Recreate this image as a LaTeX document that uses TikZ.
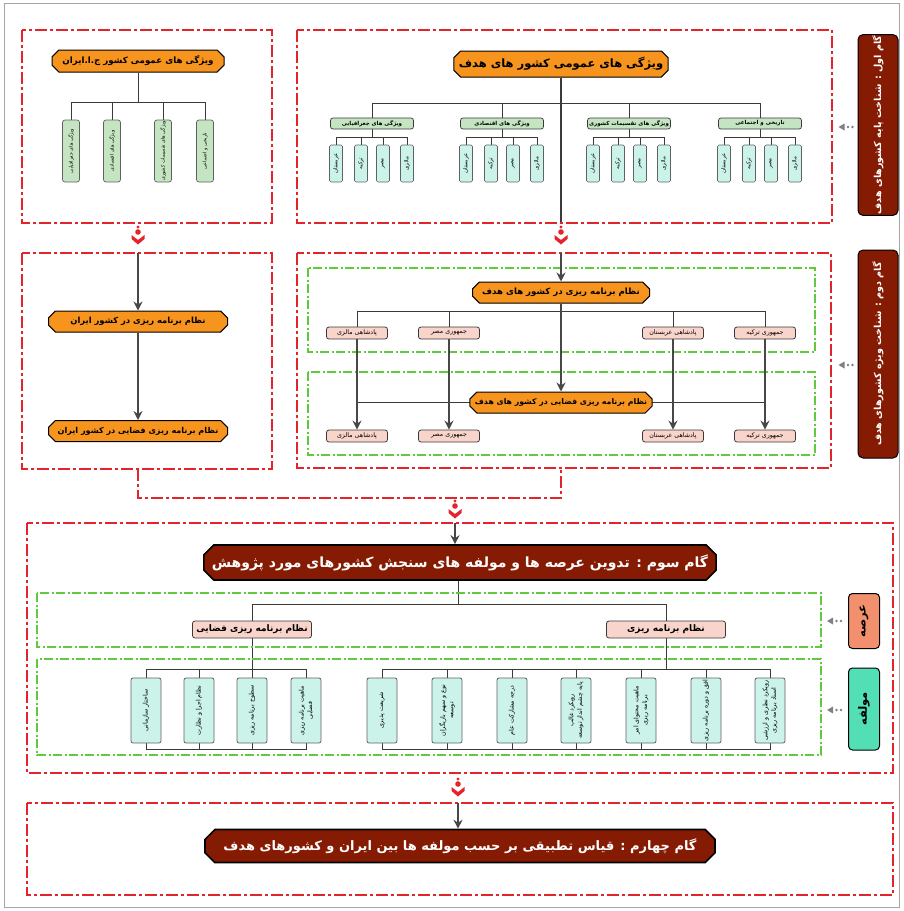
\documentclass[tikz,border=0pt]{standalone}
\usepackage{fontspec}
\usetikzlibrary{shapes.misc,arrows.meta,calc}
\TeXXeTstate=1
\newfontfamily\farsi[Script=Arabic]{DejaVu Sans}
\newcommand{\fa}[1]{\beginR #1\endR}
\newcommand{\fsz}[2]{\fontsize{#1}{#2}\selectfont}
\definecolor{redc}{HTML}{E3242B}
\definecolor{greenc}{HTML}{5FCB3A}
\definecolor{orangec}{HTML}{F7941D}
\definecolor{brownc}{HTML}{861B04}
\definecolor{ghc}{HTML}{C5E5C2}
\definecolor{cyc}{HTML}{CBF3EA}
\definecolor{pkc}{HTML}{F9D4CB}
\definecolor{salc}{HTML}{F2906E}
\definecolor{mintc}{HTML}{52DFB6}
\definecolor{linec}{HTML}{3A3A3A}
\definecolor{arrc}{HTML}{474747}
\pgfdeclarelayer{bg}
\pgfsetlayers{bg,main}
\tikzset{
 redbox/.style={draw=redc, line width=2.2pt, dash pattern=on 12pt off 3pt on 3pt off 3pt},
 greenbox/.style={draw=greenc, line width=1.1pt, dash pattern=on 9pt off 2.5pt on 2pt off 2.5pt},
 conn/.style={draw=linec, line width=0.9pt},
 arr/.style={draw=arrc, line width=1.6pt, -{Stealth[length=9pt,width=9pt,inset=3pt]}},
 orangebox/.style={chamfered rectangle, chamfered rectangle xsep=4pt, draw=black, line width=1pt, fill=orangec, text=black, inner sep=1pt},
 brownbox/.style={chamfered rectangle, chamfered rectangle xsep=7pt, draw=black, line width=1.6pt, fill=brownc, text=white, inner sep=1pt},
 ghbox/.style={draw=linec, line width=0.7pt, rounded corners=2.5pt, fill=ghc, minimum width=83pt, minimum height=11pt, inner sep=0.5pt, font=\farsi\bfseries\fsz{5.5}{6}},
 gvbox/.style={rotate=90, draw=linec!80, line width=0.7pt, rounded corners=2.5pt, fill=ghc, minimum width=62pt, minimum height=17pt, inner sep=0.5pt, font=\farsi\fsz{4.9}{6}},
 cybox/.style={rotate=90, draw=linec!80, line width=0.6pt, rounded corners=1.5pt, fill=cyc, minimum width=37pt, minimum height=13pt, inner sep=0.5pt, font=\farsi\fsz{5.5}{6}},
 pkbox/.style={draw=linec, line width=0.8pt, rounded corners=2.5pt, fill=pkc, minimum width=61pt, minimum height=12pt, inner sep=0.5pt, font=\farsi\fsz{6.3}{7}},
 mbox/.style={rotate=90, draw=linec!80, line width=0.8pt, rounded corners=2pt, fill=cyc, minimum width=65pt, minimum height=30pt, inner sep=0.5pt, align=center, font=\farsi\fsz{6.3}{8.5}},
 steplabel/.style={rotate=90, draw=black, line width=1pt, rounded corners=5pt, fill=brownc, text=white, minimum height=40pt, inner sep=1pt, font=\farsi\bfseries\fsz{9.6}{12}},
 sidebox/.style={rotate=90, draw=black, line width=1pt, rounded corners=4pt, minimum height=31pt, inner sep=1pt, font=\farsi\bfseries\fsz{11.5}{12}},
 redmark/.pic={
  \fill[redc] (0,0) circle (1.6);
  \fill[redc] (0,5) circle (2.8);
  \fill[redc] (-6.5,8) -- (0,13) -- (6.5,8) -- (6.5,12) -- (0,17.5) -- (-6.5,12) -- cycle;
 },
 dotarrow/.pic={
  \fill[gray] (0,0) -- (6,-3.5) -- (6,3.5) -- cycle;
  \fill[gray] (9.5,0) circle (1.4);
  \fill[gray] (14,0) circle (1.4);
 }
}
\begin{document}
\begin{tikzpicture}[x=1pt,y=-1pt]
\useasboundingbox (0,0) rectangle (904,911);
\draw[black!35, line width=0.6pt] (4,3) rectangle (899,907);

% ===== Step 1 left =====
\draw[redbox] (22,30) rectangle (272,223);
\node[orangebox, minimum width=172pt, minimum height=22pt, font=\farsi\bfseries\fsz{8.7}{10}] (ihead) at (138,61) {\fa{ویژگی های عمومی کشور ج.ا.ایران}};
\node[gvbox] (ig1) at (71,151) {\fa{ویژگی های جغرافیایی}};
\node[gvbox] (ig2) at (112,151) {\fa{ویژگی های اقتصادی}};
\node[gvbox] (ig3) at (163,151) {\fa{ویژگی های تقسیمات کشوری}};
\node[gvbox] (ig4) at (205,151) {\fa{تاریخی و اجتماعی}};
\coordinate (ibar) at (138,102);
\begin{pgfonlayer}{bg}
\draw[conn] (ihead.south) -- (ibar);
\draw[conn] (ig1.east) -- (ig1.east |- ibar) -- (ig4.east |- ibar) -- (ig4.east);
\draw[conn] (ig2.east) -- (ig2.east |- ibar);
\draw[conn] (ig3.east) -- (ig3.east |- ibar);
\end{pgfonlayer}

% ===== Step 1 right =====
\draw[redbox] (297,30) rectangle (832,223);
\node[orangebox, minimum width=214pt, minimum height=26pt, font=\farsi\bfseries\fsz{11.5}{12}] (thead) at (561,64) {\fa{ویژگی های عمومی کشور های هدف}};
\node[ghbox] (gh1) at (372,123.5) {\fa{ویژگی های جغرافیایی}};
\node[ghbox] (gh2) at (502,123.5) {\fa{ویژگی های اقتصادی}};
\node[ghbox] (gh3) at (629,123.5) {\fa{ویژگی های تقسیمات کشوری}};
\node[ghbox] (gh4) at (760,123.5) {\fa{تاریخی و اجتماعی}};
\coordinate (tbar) at (561,103);
\coordinate (r1bot) at (561,223);
\foreach \g/\cx in {1/372,2/502,3/629,4/760} {
  \node[cybox] (c\g-1) at (\cx-36,163.5) {\fa{عربستان}};
  \node[cybox] (c\g-2) at (\cx-11,163.5) {\fa{ترکیه}};
  \node[cybox] (c\g-3) at (\cx+11,163.5) {\fa{مصر}};
  \node[cybox] (c\g-4) at (\cx+35,163.5) {\fa{مالزی}};
  \coordinate (sb\g) at (\cx,137);
  \begin{pgfonlayer}{bg}
  \draw[conn] (gh\g.south) -- (sb\g);
  \draw[conn] (c\g-1.east) -- (c\g-1.east |- sb\g) -- (c\g-4.east |- sb\g) -- (c\g-4.east);
  \draw[conn] (c\g-2.east) -- (c\g-2.east |- sb\g);
  \draw[conn] (c\g-3.east) -- (c\g-3.east |- sb\g);
  \end{pgfonlayer}
}
\begin{pgfonlayer}{bg}
\draw[conn, line width=1.3pt] (thead.south) -- (r1bot);
\draw[conn] (gh1.north) -- (gh1.north |- tbar) -- (gh4.north |- tbar) -- (gh4.north);
\draw[conn] (gh2.north) -- (gh2.north |- tbar);
\draw[conn] (gh3.north) -- (gh3.north |- tbar);
\end{pgfonlayer}
\node[steplabel, minimum width=180pt] (s1) at (878,125) {\fa{گام اول : شناخت پایه کشورهای هدف}};
\pic at ($(s1.north)+(-19,2)$) {dotarrow};

\pic at (138,227) {redmark};
\pic at (561,227) {redmark};

% ===== Step 2 left =====
\draw[redbox] (22,253) rectangle (272,469);
\coordinate (l2top) at (138,253);
\node[orangebox, minimum width=179pt, minimum height=21pt, font=\farsi\bfseries\fsz{8.4}{9}] (n1) at (138,321.5) {\fa{نظام برنامه ریزی در کشور ایران}};
\node[orangebox, minimum width=179pt, minimum height=21pt, font=\farsi\bfseries\fsz{8.1}{9}] (n2) at (138,431) {\fa{نظام برنامه ریزی فضایی در کشور ایران}};
\draw[arr] (l2top) -- (n1.north);
\draw[arr] (n1.south) -- (n2.north);

% ===== Step 2 right =====
\draw[redbox] (297,253) rectangle (831,468);
\draw[greenbox] (308,268) rectangle (815,352);
\draw[greenbox] (308,372) rectangle (815,455);
\coordinate (r2top) at (561,253);
\node[orangebox, minimum width=177pt, minimum height=21pt, font=\farsi\bfseries\fsz{8.6}{9}] (A) at (561,292.5) {\fa{نظام برنامه ریزی در کشور های هدف}};
\node[orangebox, minimum width=177pt, minimum height=21pt, font=\farsi\bfseries\fsz{7.8}{9}] (B) at (561,402.5) {\fa{نظام برنامه ریزی فضایی در کشور های هدف}};
\draw[arr] (r2top) -- (A.north);
\draw[arr] (A.south) -- (B.north);
\node[pkbox] (p1) at (357,333) {\fa{پادشاهی مالزی}};
\node[pkbox] (p2) at (449,333) {\fa{جمهوری مصر}};
\node[pkbox] (p3) at (673,333) {\fa{پادشاهی عربستان}};
\node[pkbox] (p4) at (765,333) {\fa{جمهوری ترکیه}};
\node[pkbox] (q1) at (357,436) {\fa{پادشاهی مالزی}};
\node[pkbox] (q2) at (449,436) {\fa{جمهوری مصر}};
\node[pkbox] (q3) at (673,436) {\fa{پادشاهی عربستان}};
\node[pkbox] (q4) at (765,436) {\fa{جمهوری ترکیه}};
\coordinate (abar) at (561,311);
\begin{pgfonlayer}{bg}
\draw[conn] (p1.north) -- (p1.north |- abar) -- (p4.north |- abar) -- (p4.north);
\draw[conn] (p2.north) -- (p2.north |- abar);
\draw[conn] (p3.north) -- (p3.north |- abar);
\draw[conn] (p1.south |- B) -- (p4.south |- B);
\end{pgfonlayer}
\foreach \i in {1,2,3,4} {\draw[arr] (p\i.south) -- (q\i.north);}
\node[steplabel, minimum width=208pt] (s2) at (878,354) {\fa{گام دوم : شناخت ویژه کشورهای هدف}};
\pic at ($(s2.north)+(-19,11)$) {dotarrow};

% ===== link to step 3 =====
\coordinate (l2bot) at (138,469);
\coordinate (r2bot) at (561,468);
\coordinate (jn) at (455,498);
\draw[redbox, line width=2pt] (l2bot) -- (l2bot |- jn) -- (r2bot |- jn) -- (r2bot);
\pic at (455,501) {redmark};

% ===== Step 3 =====
\draw[redbox] (27,523) rectangle (893,773);
\coordinate (s3top) at (455,523);
\node[brownbox, minimum width=505pt, minimum height=35pt, font=\farsi\bfseries\fsz{14}{16}] (H3) at (460,562.5) {\fa{گام سوم : تدوین عرصه ها و مولفه های سنجش کشورهای مورد پژوهش}};
\draw[arr] (s3top) -- (s3top |- H3.north);
\draw[greenbox] (37,593) rectangle (821,647);
\draw[greenbox] (37,659) rectangle (821,755);
\node[pkbox, minimum width=119pt, minimum height=17pt, font=\farsi\bfseries\fsz{9}{10}] (k1) at (252,629.5) {\fa{نظام برنامه ریزی فضایی}};
\node[pkbox, minimum width=119pt, minimum height=17pt, font=\farsi\bfseries\fsz{9}{10}] (k2) at (666,629.5) {\fa{نظام برنامه ریزی}};
\coordinate (hbar) at (458,604);
\begin{pgfonlayer}{bg}
\draw[conn] (hbar |- H3.south) -- (hbar);
\draw[conn] (k1.north) -- (k1.north |- hbar) -- (k2.north |- hbar) -- (k2.north);
\end{pgfonlayer}

\node[mbox] (m1) at (146,710.5) {\fa{ساختار سازمانی}};
\node[mbox] (m2) at (199,710.5) {\fa{نظام اجرا و نظارت}};
\node[mbox] (m3) at (252,710.5) {\fa{سطوح برنامه ریزی}};
\node[mbox] (m4) at (306,710.5) {\fa{ماهیت برنامه ریزی}\\\fa{فضایی}};
\node[mbox] (r1) at (382,710.5) {\fa{شریعت پذیری}};
\node[mbox] (r2) at (447,710.5) {\fa{نوع و سهم بازیگران}\\\fa{توسعه}};
\node[mbox] (r3) at (512,710.5) {\fa{درجه مشارکت عام}};
\node[mbox] (r4) at (576,710.5) {\fa{رویکرد غالب}\\\fa{پایه چشم انداز توسعه}};
\node[mbox] (r5) at (641,710.5) {\fa{ماهیت محتوای امر}\\\fa{برنامه ریزی}};
\node[mbox] (r6) at (706,710.5) {\fa{افق و دوره برنامه ریزی}};
\node[mbox] (r7) at (770,710.5) {\fa{رویکرد نظری و ارزشی}\\\fa{اسناد برنامه ریزی}};
\coordinate (lbar) at (252,669);
\coordinate (lbot) at (252,749);
\coordinate (rbar) at (666,669);
\coordinate (rbot) at (666,749);
\begin{pgfonlayer}{bg}
\draw[conn] (k1.south) -- (lbar);
\draw[conn] (m1.east) -- (m1.east |- lbar) -- (m4.east |- lbar) -- (m4.east);
\draw[conn] (m1.west) -- (m1.west |- lbot) -- (m4.west |- lbot) -- (m4.west);
\foreach \i in {2,3} {
  \draw[conn] (m\i.east) -- (m\i.east |- lbar);
  \draw[conn] (m\i.west) -- (m\i.west |- lbot);
}
\draw[conn] (k2.south) -- (rbar);
\draw[conn] (r1.east) -- (r1.east |- rbar) -- (r7.east |- rbar) -- (r7.east);
\draw[conn] (r1.west) -- (r1.west |- rbot) -- (r7.west |- rbot) -- (r7.west);
\foreach \i in {2,...,6} {
  \draw[conn] (r\i.east) -- (r\i.east |- rbar);
  \draw[conn] (r\i.west) -- (r\i.west |- rbot);
}
\end{pgfonlayer}
\node[sidebox, fill=salc, minimum width=55pt] (arena) at (864,621) {\fa{عرصه}};
\node[sidebox, fill=mintc, minimum width=82pt] (molf) at (864,709) {\fa{مولفه}};
\pic at ($(arena.north)+(-21,0)$) {dotarrow};
\pic at ($(molf.north)+(-21,1)$) {dotarrow};

% ===== Step 4 =====
\pic at (458,779) {redmark};
\draw[redbox] (27,803) rectangle (893,895);
\coordinate (s4top) at (458,803);
\node[brownbox, minimum width=510pt, minimum height=33pt, font=\farsi\bfseries\fsz{13}{15}] (H4) at (460,846) {\fa{گام چهارم : قیاس تطبیقی  بر حسب مولفه ها بین ایران و کشورهای هدف}};
\draw[arr] (s4top) -- (s4top |- H4.north);
\end{tikzpicture}
\end{document}
